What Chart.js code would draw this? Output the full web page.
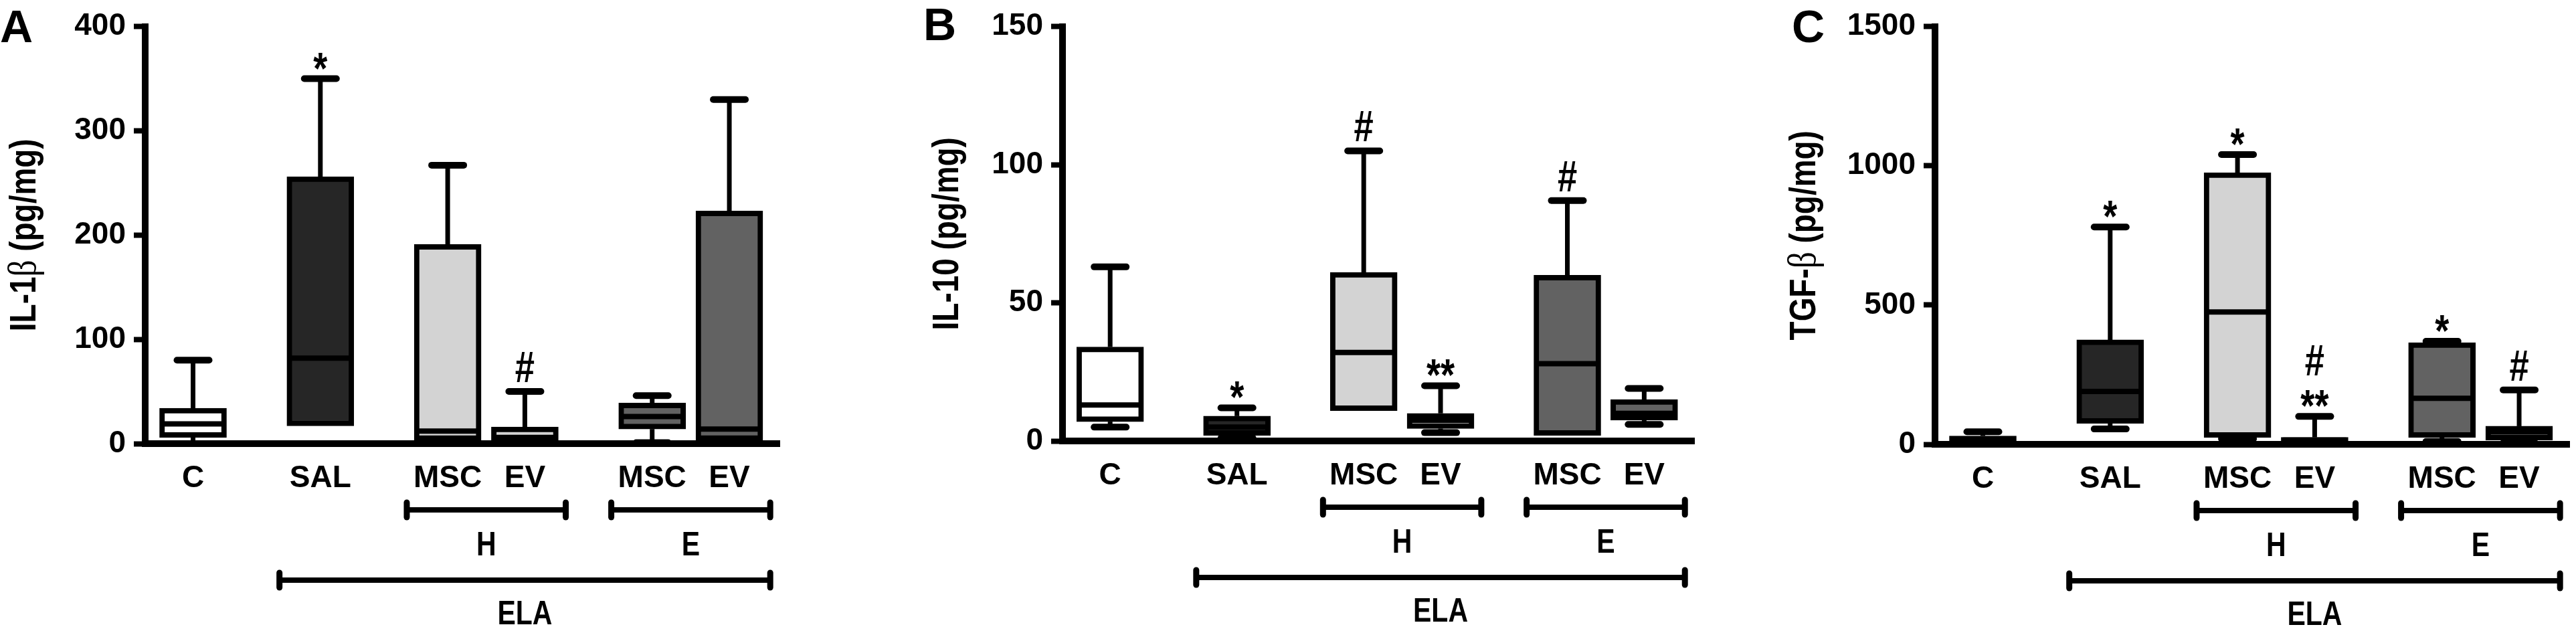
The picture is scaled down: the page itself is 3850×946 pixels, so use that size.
<!DOCTYPE html>
<html>
<head>
<meta charset="utf-8">
<script src="https://cdn.jsdelivr.net/npm/chart.js@4.4.1/dist/chart.umd.min.js"></script>
<style>
  body { margin: 0; background: #fff; }
  canvas { position: absolute; top: 0; }
</style>
</head>
<body>
<canvas id="panelA" width="1283" height="946" style="left:0px"></canvas>
<canvas id="panelB" width="1283" height="946" style="left:1283px"></canvas>
<canvas id="panelC" width="1284" height="946" style="left:2566px"></canvas>
<script>
// groups on the x axis (same for the three panels)
const groups = ["C", "SAL", "MSC", "EV", "MSC", "EV"];
const groupSlots = [0, 1.65, 3.3, 4.3, 5.95, 6.95];
const brackets = [
  { label: "H", from: 2, to: 3, row: 0 },
  { label: "E", from: 4, to: 5, row: 0 },
  { label: "ELA", from: 1, to: 5, row: 1 }
];

// A - IL-1beta
const il1bMin = [0, 17, 2, 2, 1, 2];
const il1bQ1 = [6, 17, 3, 3, 14, 3];
const il1bMedian = [19, 82, 12, 6, 26, 14];
const il1bQ3 = [34, 256, 191, 16, 39, 223];
const il1bMax = [80, 350, 267, 50, 46, 330];
const il1bMarks = [[], ["*"], [], ["#"], [], []];
const il1bTicks = [0, 100, 200, 300, 400];

// B - IL-10
const il10Min = [5, 1, 11, 3, 2, 6];
const il10Q1 = [7, 2, 11, 4.5, 2, 7.5];
const il10Median = [13, 5, 32, 7.5, 28, 10];
const il10Q3 = [34, 9, 61, 10, 60, 15];
const il10Max = [63, 12, 105, 20, 87, 19];
const il10Marks = [[], ["*"], ["#"], ["**"], ["#"], []];
const il10Ticks = [0, 50, 100, 150];

// C - TGF-beta
const tgfbMin = [5, 55, 20, 5, 10, 5];
const tgfbQ1 = [8, 75, 25, 8, 25, 15];
const tgfbMedian = [15, 190, 475, 15, 165, 45];
const tgfbQ3 = [30, 375, 975, 25, 365, 65];
const tgfbMax = [45, 780, 1040, 100, 370, 195];
const tgfbMarks = [[], ["*"], ["*"], ["**", "#"], ["*"], ["#"]];
const tgfbTicks = [0, 500, 1000, 1500];

const fills = ["#ffffff", "#262626", "#d3d3d3", "#d3d3d3", "#626262", "#626262"];

const SANS = "'Liberation Sans', Arial, sans-serif";
const NARROW = 0.82; // horizontal squeeze for the hand drawn texts
Chart.defaults.font.family = SANS;
Chart.defaults.color = "#000";

function stroke(ctx, x1, y1, x2, y2, w, cap) {
  ctx.lineWidth = w;
  ctx.lineCap = cap || "butt";
  ctx.beginPath();
  ctx.moveTo(x1, y1);
  ctx.lineTo(x2, y2);
  ctx.stroke();
}

function narrowText(ctx, text, x, y) {
  ctx.save();
  ctx.translate(x, y);
  ctx.scale(NARROW, 1);
  ctx.fillText(text, 0, 0);
  ctx.restore();
}

function buildPanel(canvasId, s, frame) {
  const extras = {
    id: "boxParts",
    beforeDatasetsDraw(chart) {
      const { ctx, scales: { x, y } } = chart;
      ctx.save();
      ctx.strokeStyle = "#000";
      groupSlots.forEach((slot, i) => {
        const px = x.getPixelForValue(slot);
        const yMax = y.getPixelForValue(s.max[i]);
        const yMin = y.getPixelForValue(s.min[i]);
        stroke(ctx, px, y.getPixelForValue(s.q3[i]), px, yMax, 7);
        stroke(ctx, px - 24, yMax, px + 24, yMax, 10, "round");
        if (s.min[i] < s.q1[i]) {
          stroke(ctx, px, y.getPixelForValue(s.q1[i]), px, yMin, 7);
          stroke(ctx, px - 24, yMin, px + 24, yMin, 10, "round");
        }
      });
      ctx.restore();
    },
    afterDatasetsDraw(chart) {
      const { ctx, scales: { x, y } } = chart;
      ctx.save();
      ctx.strokeStyle = "#000";
      ctx.fillStyle = "#000";
      ctx.textAlign = "center";
      ctx.textBaseline = "alphabetic";
      groupSlots.forEach((slot, i) => {
        const px = x.getPixelForValue(slot);
        const yMed = y.getPixelForValue(s.median[i]);
        stroke(ctx, px - 47, yMed, px + 47, yMed, 8);
        let bottom = y.getPixelForValue(s.max[i]) - 14;
        s.marks[i].forEach((m) => {
          ctx.font = (m.charAt(0) === "*" ? "bold 66px " : "bold 64px ") + SANS;
          const tm = ctx.measureText(m);
          const base = bottom - tm.actualBoundingBoxDescent;
          narrowText(ctx, m, px, base);
          bottom = base - tm.actualBoundingBoxAscent - 22;
        });
      });
      ctx.restore();
    },
    afterDraw(chart) {
      const { ctx, scales: { x }, chartArea } = chart;
      ctx.save();
      ctx.strokeStyle = "#000";
      ctx.fillStyle = "#000";
      // brackets under the group names
      ctx.font = "bold 50px " + SANS;
      ctx.textAlign = "center";
      ctx.textBaseline = "middle";
      brackets.forEach((b) => {
        const x1 = x.getPixelForValue(groupSlots[b.from] - 0.53);
        const x2 = x.getPixelForValue(groupSlots[b.to] + 0.53);
        const yl = chartArea.bottom + (b.row === 0 ? 99 : 204);
        stroke(ctx, x1, yl, x2, yl, 8);
        stroke(ctx, x1, yl - 11, x1, yl + 11, 9, "round");
        stroke(ctx, x2, yl - 11, x2, yl + 11, 9, "round");
        narrowText(ctx, b.label, (x1 + x2) / 2, chartArea.bottom + (b.row === 0 ? 153 : 256));
      });
      // axis title with mixed fonts
      ctx.translate(chartArea.left - frame.titleOff, (chartArea.top + chartArea.bottom) / 2);
      ctx.rotate(-Math.PI / 2);
      ctx.scale(NARROW, 1);
      ctx.textAlign = "left";
      ctx.textBaseline = "alphabetic";
      const fontOf = (k) => (k % 2 === 1 ? "60px 'Liberation Serif', serif" : "bold 56px " + SANS);
      let total = 0;
      const widths = s.title.map((part, k) => {
        ctx.font = fontOf(k);
        const w = ctx.measureText(part).width;
        total += w;
        return w;
      });
      let tx = -total / 2;
      s.title.forEach((part, k) => {
        ctx.font = fontOf(k);
        ctx.fillText(part, tx, 20);
        tx += widths[k];
      });
      ctx.restore();
      // panel letter
      ctx.save();
      ctx.fillStyle = "#000";
      ctx.font = "bold 68px " + SANS;
      ctx.textBaseline = "alphabetic";
      ctx.fillText(s.letter, chartArea.left - frame.letterOff, frame.letterBase);
      ctx.restore();
    }
  };

  const canvasW = document.getElementById(canvasId).width;
  new Chart(document.getElementById(canvasId), {
    type: "bar",
    data: {
      datasets: [{
        data: groupSlots.map((slot, i) => ({ x: slot, y: [s.q1[i], s.q3[i]] })),
        backgroundColor: fills,
        borderColor: "#000",
        borderWidth: 8,
        borderSkipped: false,
        barThickness: 100
      }]
    },
    options: {
      responsive: false,
      devicePixelRatio: 1,
      animation: false,
      layout: { padding: { left: 0, top: frame.top, right: frame.left + canvasW - frame.right, bottom: 0 } },
      plugins: { legend: { display: false }, tooltip: { enabled: false } },
      scales: {
        x: {
          type: "linear",
          offset: false,
          min: -0.62,
          max: 7.6,
          z: 1,
          afterFit: (scale) => { scale.height = 946 - frame.zero; },
          afterBuildTicks: (axis) => { axis.ticks = groupSlots.map((v) => ({ value: v })); },
          grid: { drawOnChartArea: false, drawTicks: false },
          border: { display: true, width: 10, color: "#000" },
          ticks: {
            autoSkip: false,
            maxRotation: 0,
            padding: 25,
            font: { size: 46, weight: "bold" },
            callback: (value, index) => groups[index]
          }
        },
        y: {
          min: 0,
          max: s.ticks[s.ticks.length - 1],
          afterFit: (scale) => { scale.width = frame.axis - frame.left; },
          afterBuildTicks: (axis) => { axis.ticks = s.ticks.map((v) => ({ value: v })); },
          grid: { drawOnChartArea: false, drawTicks: true, tickLength: 17, tickWidth: 8, tickColor: "#000" },
          border: { display: true, width: 10, color: "#000" },
          ticks: {
            padding: 12,
            font: { size: 46, weight: "bold" },
            callback: (value) => String(value)
          }
        }
      }
    },
    plugins: [extras]
  });
}

buildPanel("panelA", {
  min: il1bMin, q1: il1bQ1, median: il1bMedian, q3: il1bQ3, max: il1bMax,
  marks: il1bMarks, ticks: il1bTicks, title: ["IL-1", "\u03B2", " (pg/mg)"], letter: "A"
}, { left: 0, axis: 217, right: 1165, top: 37, zero: 663, titleOff: 184, letterOff: 217, letterBase: 63 });

buildPanel("panelB", {
  min: il10Min, q1: il10Q1, median: il10Median, q3: il10Q3, max: il10Max,
  marks: il10Marks, ticks: il10Ticks, title: ["IL-10 (pg/mg)"], letter: "B"
}, { left: 1283, axis: 1588, right: 2532, top: 29, zero: 659, titleOff: 176, letterOff: 208, letterBase: 60 });

buildPanel("panelC", {
  min: tgfbMin, q1: tgfbQ1, median: tgfbMedian, q3: tgfbQ3, max: tgfbMax,
  marks: tgfbMarks, ticks: tgfbTicks, title: ["TGF-", "\u03B2", " (pg/mg)"], letter: "C"
}, { left: 2566, axis: 2892, right: 3840, top: 33, zero: 664, titleOff: 199, letterOff: 214, letterBase: 63 });
</script>
</body>
</html>
